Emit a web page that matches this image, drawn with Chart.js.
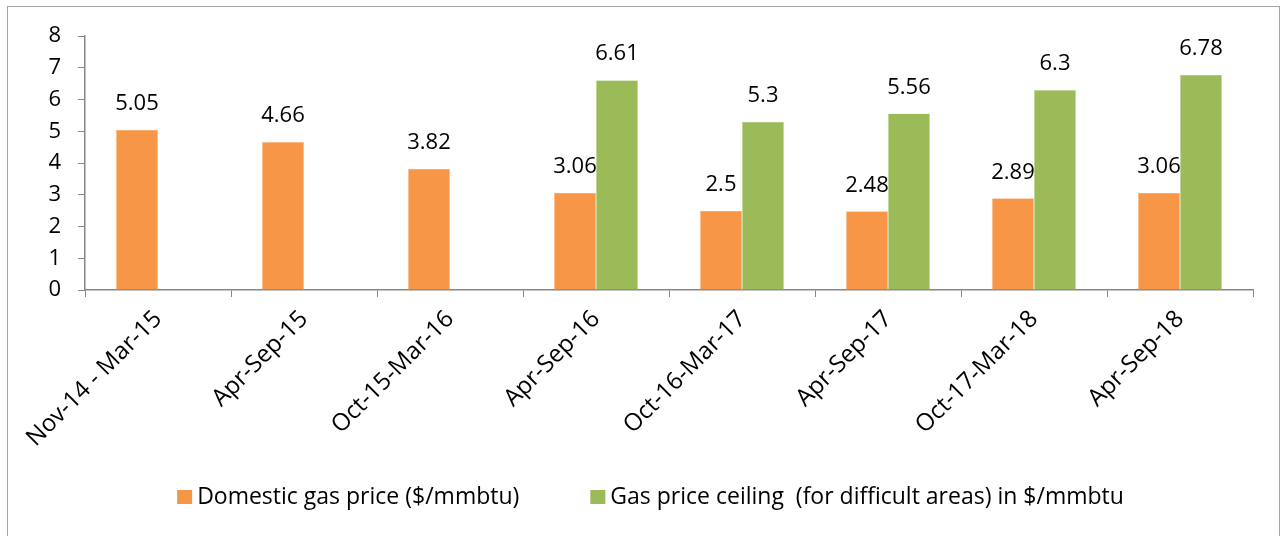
<!DOCTYPE html>
<html>
<head>
<meta charset="utf-8">
<script src="https://cdn.jsdelivr.net/npm/chart.js@4"></script>
<style>
  html, body { margin: 0; padding: 0; background: #fff; }
  #wrap { position: relative; width: 1281px; height: 536px; }
  #frame { position: absolute; left: 7px; top: 6px; width: 1271px; height: 540px; border: 1px solid #a6a6a6; }
  canvas { position: absolute; left: 0; top: 0; }
</style>
</head>
<body>
<div id="wrap">
  <div id="frame"></div>
  <canvas id="c" width="1281" height="536"></canvas>
</div>
<script>
const periods = ["Nov-14 - Mar-15", "Apr-Sep-15", "Oct-15-Mar-16", "Apr-Sep-16", "Oct-16-Mar-17", "Apr-Sep-17", "Oct-17-Mar-18", "Apr-Sep-18"];
const domesticPrice = [5.05, 4.66, 3.82, 3.06, 2.5, 2.48, 2.89, 3.06];
const ceilingPrice = [null, null, null, 6.61, 5.3, 5.56, 6.3, 6.78];
const seriesNames = ["Domestic gas price ($/mmbtu)", "Gas price ceiling  (for difficult areas) in $/mmbtu"];
const seriesColors = ["#f79646", "#9bbb59"];

const FONT = "'Open Sans', 'Noto Sans', sans-serif";
const axisGray = "#868686";

// value labels above each bar
const barLabels = {
  id: "barLabels",
  afterDatasetsDraw(chart) {
    const ctx = chart.ctx;
    ctx.save();
    ctx.font = "22px " + FONT;
    ctx.fillStyle = "#000";
    ctx.textAlign = "center";
    ctx.textBaseline = "middle";
    chart.data.datasets.forEach((ds, i) => {
      chart.getDatasetMeta(i).data.forEach((el, j) => {
        const v = ds.data[j];
        if (v == null) return;
        ctx.fillText(String(v), el.x, el.y - 26);
      });
    });
    ctx.restore();
  }
};

// legend row under the axis labels
const bottomLegend = {
  id: "bottomLegend",
  afterDraw(chart) {
    const ctx = chart.ctx;
    const box = 14, gap = 6, itemGap = 71, y = 497;
    ctx.save();
    ctx.font = "23px " + FONT;
    ctx.textBaseline = "middle";
    ctx.textAlign = "left";
    const widths = seriesNames.map(t => ctx.measureText(t).width);
    const total = widths.reduce((a, w) => a + box + gap + w, 0) + itemGap;
    let x = chart.width / 2 + 10 - total / 2;
    seriesNames.forEach((t, i) => {
      ctx.fillStyle = seriesColors[i];
      ctx.fillRect(x, y - box / 2, box + 1, box);
      x += box + gap;
      ctx.fillStyle = "#000";
      ctx.fillText(t, x, y);
      x += widths[i] + itemGap;
    });
    ctx.restore();
  }
};

new Chart(document.getElementById("c"), {
  type: "bar",
  data: {
    labels: periods,
    datasets: [
      { label: seriesNames[0], data: domesticPrice, backgroundColor: seriesColors[0], borderColor: "#fbc9a3", borderWidth: 0.5 },
      { label: seriesNames[1], data: ceilingPrice, backgroundColor: seriesColors[1], borderColor: "#cfe0ac", borderWidth: 0.5 }
    ]
  },
  options: {
    responsive: false,
    animation: false,
    layout: { padding: { top: 36, right: 28, left: 0, bottom: 0 } },
    datasets: { bar: { categoryPercentage: 0.575, barPercentage: 1 } },
    plugins: {
      tooltip: { enabled: false },
      legend: { display: false }
    },
    scales: {
      x: {
        afterFit: (s) => { s.height = 246; },
        grid: { display: true, drawOnChartArea: false, color: axisGray, tickLength: 7 },
        border: { color: axisGray, width: 1.5 },
        ticks: { color: "#000", font: { family: FONT, size: 24 }, maxRotation: 45, minRotation: 45, padding: 8 }
      },
      y: {
        min: 0,
        max: 8,
        afterFit: (s) => { s.width = 85; },
        grid: { display: true, drawOnChartArea: false, color: axisGray, tickLength: 7 },
        border: { color: axisGray, width: 1.5 },
        ticks: { stepSize: 1, color: "#000", font: { family: FONT, size: 22 }, padding: 17 }
      }
    }
  },
  plugins: [barLabels, bottomLegend]
});
</script>
</body>
</html>
